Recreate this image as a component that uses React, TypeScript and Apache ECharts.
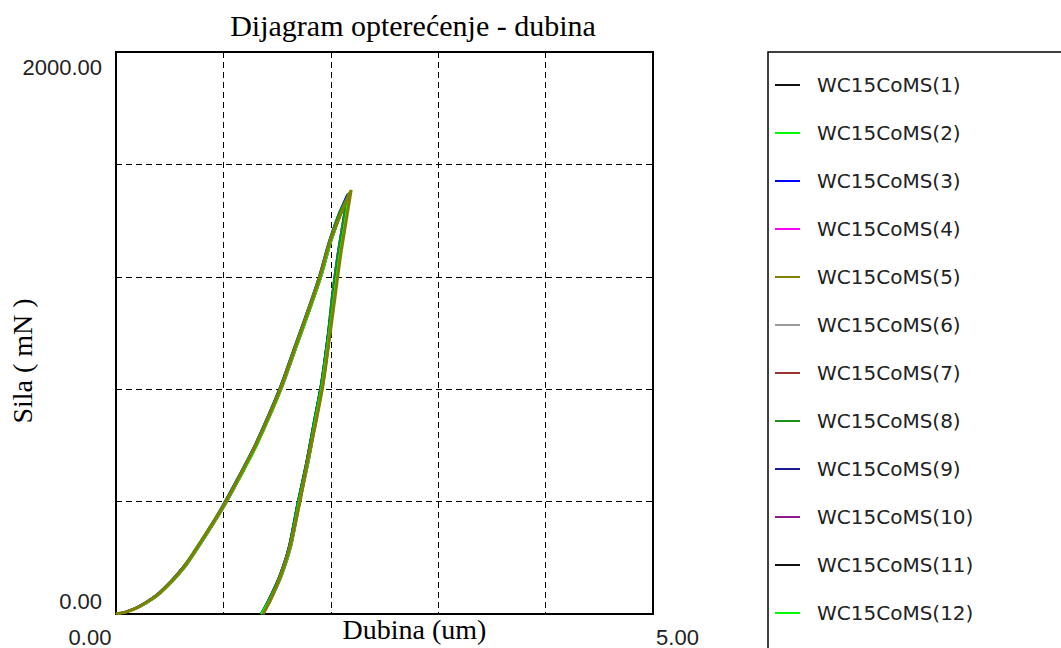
import React, { useEffect, useRef } from "react";
import * as echarts from "echarts";

const seriesNames = [
  "WC15CoMS(1)", "WC15CoMS(2)", "WC15CoMS(3)", "WC15CoMS(4)", "WC15CoMS(5)", "WC15CoMS(6)",
  "WC15CoMS(7)", "WC15CoMS(8)", "WC15CoMS(9)", "WC15CoMS(10)", "WC15CoMS(11)", "WC15CoMS(12)",
];
const seriesColors = [
  "#111111", "#00ff00", "#0000ff", "#ff00ff", "#808000", "#9a9a9a",
  "#993333", "#1a8f1a", "#1a1a8f", "#8f1a8f", "#111111", "#00ff00",
];
const seriesZ = [2, 4, 3, 3, 6, 2, 2, 3, 2, 2, 2, 4];

// force levels (mN) shared by all indentations
const loadForce = [0, 8, 27, 76, 165, 268, 384, 489, 607, 800, 960, 1088, 1200, 1322, 1430];
const unloadForce = [1391, 1272, 1129, 987, 821, 679, 536, 394, 240, 133, 50, 0];

// depth (um) on loading, per indentation
const loadDepth = [
  [0, 0.10, 0.22, 0.41, 0.63, 0.81, 1.00, 1.15, 1.31, 1.53, 1.68, 1.80, 1.90, 1.99, 2.09],
  [0, 0.10, 0.22, 0.41, 0.63, 0.82, 1.00, 1.16, 1.32, 1.53, 1.69, 1.81, 1.91, 2.00, 2.10],
  [0, 0.09, 0.21, 0.40, 0.62, 0.81, 0.99, 1.14, 1.30, 1.52, 1.67, 1.79, 1.89, 1.98, 2.08],
  [0, 0.10, 0.23, 0.42, 0.64, 0.82, 1.01, 1.16, 1.31, 1.54, 1.69, 1.81, 1.91, 2.00, 2.10],
  [0, 0.10, 0.22, 0.41, 0.63, 0.81, 1.00, 1.15, 1.31, 1.53, 1.68, 1.80, 1.90, 1.99, 2.10],
  [0, 0.10, 0.22, 0.41, 0.62, 0.81, 1.00, 1.15, 1.30, 1.52, 1.68, 1.80, 1.90, 1.99, 2.09],
  [0, 0.11, 0.23, 0.42, 0.63, 0.82, 1.01, 1.16, 1.32, 1.54, 1.69, 1.81, 1.91, 2.00, 2.10],
  [0, 0.10, 0.22, 0.40, 0.62, 0.80, 0.99, 1.14, 1.30, 1.52, 1.67, 1.79, 1.89, 1.98, 2.08],
  [0, 0.09, 0.21, 0.40, 0.62, 0.81, 1.00, 1.15, 1.31, 1.53, 1.68, 1.80, 1.90, 1.99, 2.09],
  [0, 0.10, 0.22, 0.41, 0.63, 0.82, 1.00, 1.16, 1.31, 1.53, 1.69, 1.81, 1.91, 2.00, 2.10],
  [0, 0.10, 0.22, 0.41, 0.63, 0.81, 1.00, 1.15, 1.31, 1.53, 1.68, 1.80, 1.90, 1.99, 2.09],
  [0, 0.10, 0.23, 0.42, 0.64, 0.82, 1.01, 1.16, 1.32, 1.54, 1.69, 1.81, 1.91, 2.00, 2.10],
];

// peak point [depth, force] per indentation
const peaks = [
  [2.16, 1495], [2.17, 1500], [2.15, 1490], [2.17, 1485], [2.19, 1509], [2.16, 1492],
  [2.18, 1502], [2.15, 1480], [2.16, 1497], [2.17, 1494], [2.16, 1488], [2.18, 1504],
];

// depth (um) on unloading, per indentation
const unloadDepth = [
  [2.12, 2.07, 2.02, 1.98, 1.92, 1.85, 1.78, 1.70, 1.62, 1.53, 1.43, 1.36],
  [2.13, 2.08, 2.03, 1.98, 1.92, 1.85, 1.78, 1.70, 1.62, 1.53, 1.43, 1.35],
  [2.11, 2.06, 2.01, 1.97, 1.91, 1.84, 1.77, 1.69, 1.61, 1.52, 1.42, 1.35],
  [2.13, 2.08, 2.03, 1.99, 1.93, 1.86, 1.79, 1.71, 1.63, 1.54, 1.44, 1.37],
  [2.14, 2.09, 2.04, 1.99, 1.93, 1.86, 1.78, 1.71, 1.62, 1.53, 1.44, 1.37],
  [2.12, 2.07, 2.02, 1.98, 1.92, 1.85, 1.78, 1.70, 1.62, 1.53, 1.43, 1.36],
  [2.13, 2.08, 2.03, 1.99, 1.93, 1.86, 1.79, 1.71, 1.63, 1.54, 1.44, 1.37],
  [2.11, 2.06, 2.01, 1.97, 1.91, 1.84, 1.77, 1.69, 1.61, 1.52, 1.42, 1.35],
  [2.12, 2.07, 2.02, 1.98, 1.92, 1.85, 1.78, 1.70, 1.62, 1.53, 1.43, 1.36],
  [2.13, 2.08, 2.03, 1.98, 1.92, 1.85, 1.78, 1.70, 1.62, 1.53, 1.43, 1.36],
  [2.12, 2.07, 2.02, 1.97, 1.91, 1.84, 1.77, 1.69, 1.61, 1.52, 1.42, 1.35],
  [2.13, 2.08, 2.03, 1.99, 1.93, 1.86, 1.79, 1.71, 1.63, 1.54, 1.44, 1.37],
];

const title = "Dijagram opterećenje - dubina";
const xName = "Dubina (um)";
const yName = "Sila ( mN )";

export default function App() {
  const ref = useRef<HTMLDivElement>(null);
  useEffect(() => {
    document.body.style.margin = "0";
    const chart = echarts.init(ref.current!, null, { renderer: "svg" });
    const series = seriesNames.map((name, i) => {
      const pts: number[][] = [];
      loadDepth[i].forEach((d, k) => pts.push([d, loadForce[k]]));
      pts.push(peaks[i]);
      unloadDepth[i].forEach((d, k) => pts.push([d, unloadForce[k]]));
      return {
        name,
        type: "line",
        data: pts,
        symbol: "none",
        showSymbol: false,
        smooth: 0.25,
        z: seriesZ[i],
        color: seriesColors[i],
        lineStyle: { color: seriesColors[i], width: i === 4 ? 3 : 2 },
      };
    });
    const labelFont = { fontFamily: "Liberation Sans", fontSize: 22, color: "#222" };
    chart.setOption({
      animation: false,
      backgroundColor: "#fff",
      title: {
        text: title,
        left: 413,
        top: 10,
        textAlign: "center",
        padding: 0,
        textStyle: { fontFamily: "Liberation Serif", fontSize: 30, fontWeight: "normal", color: "#000" },
      },
      grid: {
        left: 116, top: 52, width: 537, height: 562,
        containLabel: false,
        outerBoundsMode: "none",
        show: true, borderColor: "#000", borderWidth: 2, backgroundColor: "transparent",
      },
      legend: {
        orient: "vertical",
        left: 775,
        top: 75,
        padding: 0,
        icon: "rect",
        itemWidth: 25,
        itemHeight: 2,
        itemGap: 28,
        selectedMode: false,
        data: seriesNames,
        textStyle: { fontFamily: "DejaVu Sans", fontSize: 20, color: "#222", lineHeight: 20, padding: [0, 0, 0, 12] },
      },
      graphic: [
        {
          type: "rect",
          shape: { x: 768, y: 52, width: 400, height: 700 },
          style: { fill: "none", stroke: "#000", lineWidth: 1.5 },
          silent: true,
        },
      ],
      xAxis: {
        type: "value",
        min: 0, max: 5, interval: 1,
        name: xName,
        nameLocation: "middle",
        nameGap: 1,
        nameMoveOverlap: false,
        nameTextStyle: {
          fontFamily: "Liberation Serif", fontSize: 28, color: "#000",
          verticalAlign: "top", padding: [0, 0, 0, 60],
        },
        axisLine: { show: true, lineStyle: { color: "#000", width: 2 } },
        axisTick: { show: false },
        splitLine: { show: true, lineStyle: { color: "#000", width: 1, type: [6, 4] } },
        axisLabel: {
          margin: 12,
          formatter: (v: number) => (v === 0 ? "{l|0.00}" : v === 5 ? "{r|5.00}" : ""),
          rich: {
            l: { ...labelFont, padding: [0, 52, 0, 0] },
            r: { ...labelFont, padding: [0, 0, 0, 49] },
          },
        },
      },
      yAxis: {
        type: "value",
        min: 0, max: 2000, interval: 400,
        name: yName,
        nameLocation: "middle",
        nameGap: 80,
        nameMoveOverlap: false,
        nameTextStyle: { fontFamily: "Liberation Serif", fontSize: 28, color: "#000", padding: [0, 56, 0, 0] },
        axisLine: { show: true, lineStyle: { color: "#000", width: 2 } },
        axisTick: { show: false },
        splitLine: { show: true, lineStyle: { color: "#000", width: 1, type: [6, 4] } },
        axisLabel: {
          margin: 14,
          formatter: (v: number) => (v === 2000 ? "{t|2000.00}" : v === 0 ? "{b|0.00}" : ""),
          rich: {
            t: { ...labelFont, padding: [30, 0, 0, 0] },
            b: { ...labelFont, padding: [0, 0, 26, 0] },
          },
        },
      },
      series,
    });
    return () => chart.dispose();
  }, []);
  return <div ref={ref} style={{ width: 1061, height: 648 }} />;
}
